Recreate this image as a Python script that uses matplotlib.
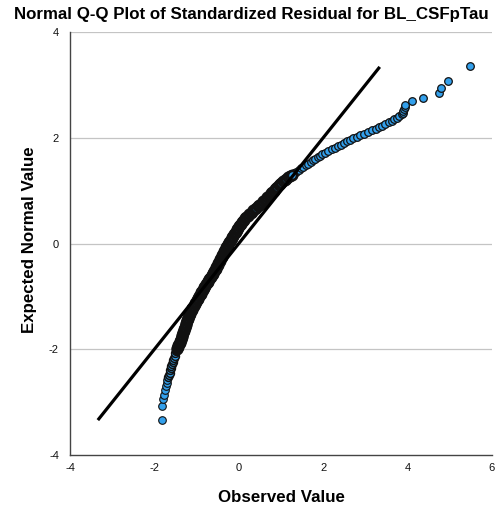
import matplotlib
matplotlib.use("Agg")
import matplotlib.pyplot as plt

plt.rcParams['font.family'] = ['Liberation Sans', 'DejaVu Sans']

# ---- data (observed standardized residual, expected normal value) ----
tail_low_obs = [-1.83, -1.83, -1.79, -1.77, -1.75, -1.73, -1.71, -1.69]
tail_low_exp = [-3.34, -3.07, -2.94, -2.86, -2.77, -2.70, -2.64, -2.58]

low_obs = [-1.670, -1.655, -1.640, -1.625, -1.610, -1.595, -1.580, -1.565, -1.550,
           -1.533, -1.516, -1.500, -1.483]
low_exp = [-2.52, -2.48, -2.44, -2.40, -2.36, -2.32, -2.28, -2.24, -2.20,
           -2.16, -2.12, -2.08, -2.04]

mid_obs = [-1.465, -1.453, -1.441, -1.429, -1.417, -1.405, -1.393, -1.381, -1.369, -1.357,
           -1.346, -1.335, -1.325, -1.314, -1.303, -1.293, -1.282, -1.272, -1.261, -1.250,
           -1.240, -1.229, -1.219, -1.208, -1.198, -1.187, -1.177, -1.166,
           -1.152, -1.134, -1.116, -1.098, -1.081, -1.063, -1.045, -1.027, -1.009, -0.991,
           -0.974, -0.956, -0.938, -0.920, -0.902, -0.884, -0.867, -0.849, -0.831, -0.813,
           -0.795, -0.777, -0.760,
           -0.740, -0.720, -0.700, -0.680, -0.660, -0.640, -0.620, -0.600, -0.580, -0.560,
           -0.545, -0.529, -0.514, -0.498, -0.483, -0.467, -0.452, -0.436, -0.421, -0.405,
           -0.390, -0.374, -0.359, -0.343, -0.328, -0.312, -0.297, -0.281, -0.266, -0.250,
           -0.230, -0.210, -0.190, -0.170, -0.151, -0.131, -0.111, -0.091, -0.071, -0.051,
           -0.031, -0.011, 0.009, 0.028, 0.048, 0.068, 0.088,
           0.113, 0.147, 0.180, 0.214, 0.247, 0.281, 0.315, 0.348, 0.382, 0.415,
           0.449, 0.482, 0.516, 0.549, 0.583, 0.617, 0.650,
           0.679, 0.708, 0.738, 0.767, 0.796, 0.825, 0.854, 0.883, 0.913, 0.942, 0.971, 1.000,
           1.042, 1.083, 1.125, 1.167, 1.208, 1.250]
mid_exp = [-2.000, -1.975, -1.950, -1.925, -1.900, -1.875, -1.850, -1.825, -1.800, -1.775,
           -1.750, -1.725, -1.700, -1.675, -1.650, -1.625, -1.600, -1.575, -1.550, -1.525,
           -1.500, -1.475, -1.450, -1.425, -1.400, -1.375, -1.350, -1.325,
           -1.300, -1.275, -1.250, -1.225, -1.200, -1.175, -1.150, -1.125, -1.100, -1.075,
           -1.050, -1.025, -1.000, -0.975, -0.950, -0.925, -0.900, -0.875, -0.850, -0.825,
           -0.800, -0.775, -0.750,
           -0.725, -0.700, -0.675, -0.650, -0.625, -0.600, -0.575, -0.550, -0.525, -0.500,
           -0.475, -0.450, -0.425, -0.400, -0.375, -0.350, -0.325, -0.300, -0.275, -0.250,
           -0.225, -0.200, -0.175, -0.150, -0.125, -0.100, -0.075, -0.050, -0.025, 0.000,
           0.025, 0.050, 0.075, 0.100, 0.125, 0.150, 0.175, 0.200, 0.225, 0.250,
           0.275, 0.300, 0.325, 0.350, 0.375, 0.400, 0.425,
           0.450, 0.475, 0.500, 0.525, 0.550, 0.575, 0.600, 0.625, 0.650, 0.675,
           0.700, 0.725, 0.750, 0.775, 0.800, 0.825, 0.850,
           0.875, 0.900, 0.925, 0.950, 0.975, 1.000, 1.025, 1.050, 1.075, 1.100, 1.125, 1.150,
           1.175, 1.200, 1.225, 1.250, 1.275, 1.300]

high_obs = [1.306, 1.363, 1.419, 1.475, 1.531, 1.588, 1.644, 1.700, 1.756, 1.813, 1.869, 1.925, 1.981,
            2.049, 2.123, 2.198, 2.272, 2.346, 2.420, 2.494, 2.568, 2.642, 2.716, 2.790,
            2.882, 2.975, 3.067, 3.159, 3.242, 3.320, 3.398, 3.476, 3.554,
            3.620, 3.680, 3.740, 3.800, 3.860, 3.880, 3.900, 3.910, 3.930, 3.940]
high_exp = [1.33, 1.36, 1.39, 1.42, 1.45, 1.48, 1.51, 1.54, 1.57, 1.60, 1.63, 1.66, 1.69,
            1.72, 1.75, 1.78, 1.81, 1.84, 1.87, 1.90, 1.93, 1.96, 1.99, 2.02,
            2.05, 2.08, 2.11, 2.14, 2.17, 2.20, 2.23, 2.26, 2.29,
            2.32, 2.35, 2.38, 2.41, 2.44, 2.47, 2.50, 2.54, 2.58, 2.62]

tail_high_obs = [4.10, 4.37, 4.74, 4.79, 4.95, 5.48]
tail_high_exp = [2.69, 2.76, 2.84, 2.95, 3.08, 3.36]

ref_line = [-3.34, 3.34]

x_ticks = [-4, -2, 0, 2, 4, 6]
y_ticks = [-4, -2, 0, 2, 4]

title = "Normal Q-Q Plot of Standardized Residual for BL_CSFpTau"
xlabel = "Observed Value"
ylabel = "Expected Normal Value"

# ---- figure ----
fig = plt.figure(figsize=(5.02, 5.15), dpi=100)
ax = fig.add_axes([70 / 502, 1 - 455 / 515, 422 / 502, 423 / 515])

for yt in [-2, 0, 2, 4]:
    ax.axhline(yt, color='#c4c4c4', linewidth=0.9, zorder=0)

fill = '#33a0ec'
edge = '#111111'
# sparse tails
ax.scatter(tail_low_obs, tail_low_exp, s=30, facecolor=fill,
           edgecolor=edge, linewidth=0.8, zorder=2)
ax.scatter(low_obs, low_exp, s=32, facecolor=fill,
           edgecolor=edge, linewidth=1.1, zorder=2)
ax.scatter(high_obs + tail_high_obs, high_exp + tail_high_exp, s=30, facecolor=fill,
           edgecolor=edge, linewidth=0.9, zorder=2)
# very dense centre: overlapping markers render almost black
ax.scatter(mid_obs, mid_exp, s=44, facecolor=fill, edgecolor=edge,
           linewidth=2.0, zorder=2)

ax.plot(ref_line, ref_line, color='black', linewidth=2.3, zorder=3,
        solid_capstyle='butt')

ax.set_xlim(-4, 6)
ax.set_ylim(-4, 4)
ax.set_xticks(x_ticks)
ax.set_yticks(y_ticks)
ax.set_xticklabels([str(v) for v in x_ticks])
ax.set_yticklabels([str(v) for v in y_ticks])
ax.tick_params(axis='both', length=0, labelsize=8, colors='#111111')
ax.tick_params(axis='x', pad=6)
ax.tick_params(axis='y', pad=8)

for s in ['top', 'right']:
    ax.spines[s].set_visible(False)
for s in ['left', 'bottom']:
    ax.spines[s].set_color('#444444')
    ax.spines[s].set_linewidth(1.0)

fig.text(0.5, 1 - 14 / 515, title, ha='center', va='center',
         fontsize=12.2, fontweight='bold')
fig.text(281 / 502, 1 - 498 / 515, xlabel, ha='center', va='center',
         fontsize=12.2, fontweight='bold')
fig.text(30 / 502, 1 - 240 / 515, ylabel, ha='center', va='center',
         rotation=90, fontsize=12.2, fontweight='bold')

fig.savefig("out.png", dpi=100)
